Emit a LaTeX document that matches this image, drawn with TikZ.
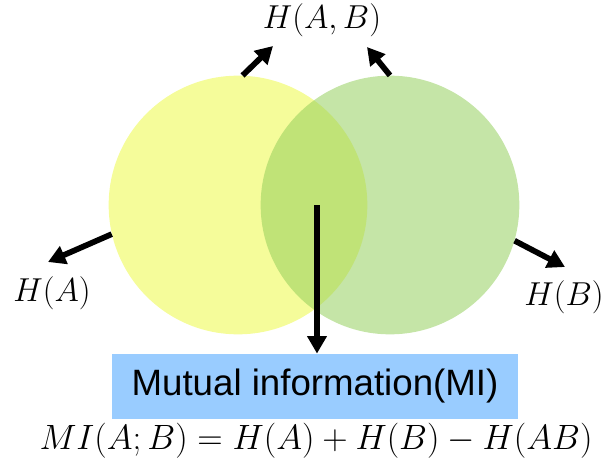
\documentclass[tikz,border=0pt]{standalone}
\usepackage{amsmath,amssymb}
\usepackage{fontspec}
\setsansfont{Liberation Sans}
\usepackage{xcolor}
\usetikzlibrary{arrows.meta,positioning,calc}
\definecolor{setA}{RGB}{245,252,154}
\definecolor{setB}{RGB}{146,205,89}
\definecolor{miblue}{RGB}{153,204,255}
\tikzset{
  setcirc/.style={circle, minimum size=194pt, inner sep=0pt, draw=none},
  lbl/.style={inner sep=1pt, font=\fontsize{25}{30}\selectfont},
  flow/.style={-{Triangle[length=13pt,width=14pt]}, line width=4.3pt},
  mibox/.style={rectangle, fill=miblue, minimum width=304pt, minimum height=49pt,
    inner sep=0pt, font=\sffamily\fontsize{27.5}{32}\selectfont},
}

\begin{document}
\begin{tikzpicture}[x=0.75pt, y=-0.75pt]
\useasboundingbox (0,0) rectangle (612,468);
\node[setcirc, fill=setA] (setA) at (238,205) {};
\node[setcirc, fill=setB, fill opacity=0.53] (setB) at (390,205) {};
% labels
\node[lbl] (hab) at (322,20) {$H(A,B)$};
\node[lbl] (ha) at (52,293) {$H(A)$};
\node[lbl] (hb) at (564,297) {$H(B)$};
\node[mibox] (mi) at (315,386.5) {Mutual information(MI)};
\node[lbl] (form) at (316,441) {\scalebox{1.06}{$MI(A;B)=H(A)+H(B)-H(AB)$}};
% arrow tips
\coordinate (tabl) at (273,46);
\coordinate (tabr) at (367,47);
\coordinate (ta) at (48,262);
\coordinate (tb) at (565,267);
\coordinate (mid) at (317,205);
\draw[flow] (setA.88) -- (tabl);
\draw[flow] (setB.90) -- (tabr);
\draw[flow] (setA.193.5) -- (ta);
\draw[flow] (setB.-16.7) -- (tb);
\draw[flow] (mid) -- (mid |- mi.north);
\end{tikzpicture}
\end{document}
